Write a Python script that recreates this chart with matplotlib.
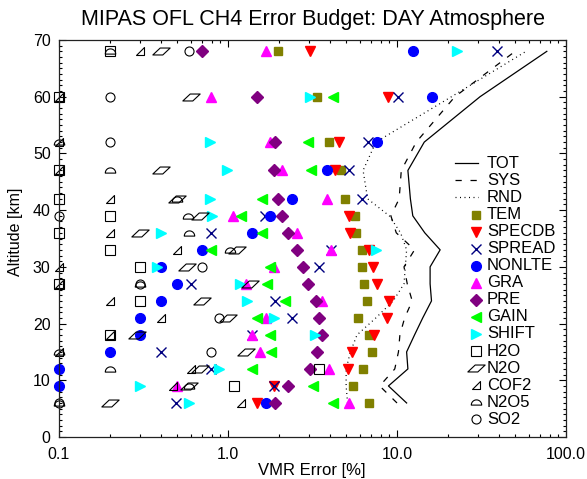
import numpy as np
import matplotlib
matplotlib.use('Agg')
import matplotlib.pyplot as plt
from matplotlib.path import Path
from matplotlib.lines import Line2D

plt.rcParams['font.family'] = ['Liberation Sans', 'DejaVu Sans']

nan = np.nan

# tangent altitudes [km]
alt = [6, 9, 12, 15, 18, 21, 24, 27, 30, 33, 36, 39, 42, 47, 52, 60, 68]

# total / systematic / random error [%]
tot = [11.4, 8.9, 11.6, 11.4, 12.7, 14.2, 16.0, 15.7, 15.7, 18.0, 14.6, 12.4, 12.0, 11.6, 14.5, 31.0, 77.0]
sys_ = [10.0, 7.9, 9.7, 10.2, 10.4, 11.1, 12.3, 11.5, 11.0, 12.7, 9.9, 9.2, 10.3, 10.6, 13.0, 22.0, 50.0]
rnd = [5.1, 5.0, 5.0, 5.3, 5.8, 7.5, 9.5, 11.0, 11.2, 11.4, 10.5, 9.0, 6.7, 6.3, 7.5, 21.0, 58.0]

# individual error sources [%]
tem = [6.86, 5.5, 6.32, 7.08, 6.86, 5.9, 6.62, 6.38, 6.23, 6.18, 5.7, 5.64, 4.93, 4.64, 3.96, 3.38, 1.98]
specdb = [1.49, 1.87, 5.15, 5.44, 7.3, 8.7, 8.97, 7.6, 7.24, 6.83, 5.28, 5.2, nan, 4.3, 4.56, 8.9, 3.05]
spread = [0.49, 1.87, 0.79, 0.4, 1.38, 2.38, 1.90, 0.6, 3.45, 4.05, 0.79, 1.66, 6.23, 5.2, 6.76, 10.2, 38.9]
nonlte = [1.68, 0.1, 0.1, 0.2, 0.3, 0.3, 0.4, 0.5, 0.4, 0.70, 1.38, 1.77, 2.38, 3.84, 7.6, 16.2, 12.5]
gra = [5.22, 0.5, 3.96, 1.55, 1.38, 1.68, 3.58, 1.28, 1.87, 4.05, 2.57, 1.07, 3.84, 2.08, 1.77, 0.79, 1.68]
pre = [1.90, 2.27, 3.05, 3.34, 3.58, 3.45, 3.32, 2.96, 2.77, 2.57, 2.27, 2.08, 1.98, 1.87, 1.90, 1.48, 0.70]
gain = [4.16, 3.2, 1.38, 1.79, 1.77, 1.49, 2.17, 1.69, 1.77, 0.79, 1.58, 1.2, 1.58, 3.1, 2.99, 4.2, nan]
shift = [0.59, 0.3, 0.89, nan, 3.27, 1.87, 1.29, 1.18, 0.38, 7.48, 0.4, 0.8, 0.78, 0.98, 0.78, 3.07, 22.7]
h2o = [nan, 1.09, 3.45, nan, 0.2, nan, 0.3, 0.1, 0.3, 0.2, 0.1, 0.2, 0.1, 0.1, nan, 0.1, 0.2]
n2o = [0.2, 0.59, 0.68, 1.27, 0.29, 1.0, 0.7, 1.35, 0.57, 1.13, 0.3, 0.68, 0.5, 0.4, nan, 0.6, 0.4]
cof2 = [1.19, 0.47, 0.6, 0.1, 0.2, 0.4, 0.2, 0.1, 0.1, 0.5, 0.2, nan, 0.2, 0.1, 0.1, 0.1, 0.3]
n2o5 = [0.1, 0.59, 0.2, 0.1, nan, nan, nan, 0.3, nan, 1.03, 0.59, 0.58, 0.5, 0.2, 0.1, nan, 0.2]
so2 = [0.1, nan, nan, 0.79, nan, 0.885, nan, 0.3, 0.70, nan, nan, 0.1, nan, nan, 0.2, 0.2, 0.59]

# custom open symbols
para = Path([(-1, -0.4), (0.15, -0.4), (1, 0.4), (-0.15, 0.4), (-1, -0.4)],
            [1, 2, 2, 2, 79])
rtri = Path([(-1, -1), (1, -1), (1, 1), (-1, -1)], [1, 2, 2, 79])
t = np.linspace(0, np.pi, 25)
dome_v = list(zip(np.cos(t), np.sin(t) - 0.5)) + [(1, -0.5)]
dome = Path(dome_v, [1] + [2] * 24 + [79])

series = [
    ('TEM', tem, dict(marker='s', ms=6.2, color='#808000')),
    ('SPECDB', specdb, dict(marker='v', ms=7, color='#ff0000')),
    ('SPREAD', spread, dict(marker='x', ms=7.5, mew=1.0, color='#000080')),
    ('NONLTE', nonlte, dict(marker='o', ms=7, color='#0000ff')),
    ('GRA', gra, dict(marker='^', ms=7, color='#ff00ff')),
    ('PRE', pre, dict(marker='D', ms=6.2, color='#800080')),
    ('GAIN', gain, dict(marker='<', ms=7, color='#00ff00')),
    ('SHIFT', shift, dict(marker='>', ms=7, color='#00ffff')),
    ('H2O', h2o, dict(marker='s', ms=6.5, mfc='none', mec='black', mew=0.8)),
    ('N2O', n2o, dict(marker=para, ms=12.5, mfc='none', mec='black', mew=0.8)),
    ('COF2', cof2, dict(marker=rtri, ms=6, mfc='none', mec='black', mew=0.8)),
    ('N2O5', n2o5, dict(marker=dome, ms=7.5, mfc='none', mec='black', mew=0.8)),
    ('SO2', so2, dict(marker='o', ms=6.5, mfc='none', mec='black', mew=0.8)),
]

W, H = 587, 479
fig = plt.figure(figsize=(W / 100, H / 100), dpi=100)
ax = fig.add_axes([59 / W, 1 - 437 / H, (566 - 59) / W, (437 - 40) / H])

ax.plot(tot, alt, color='black', lw=0.9)
ax.plot(sys_, alt, color='black', lw=0.9, linestyle=(0, (5, 7)))
ax.plot(rnd, alt, color='black', lw=0.9, linestyle=(0, (0.8, 2.8)))

for name, vals, st in series:
    ax.plot(vals, alt, linestyle='none', clip_on=False, **st)

ax.set_xscale('log')
ax.set_xlim(0.1, 100)
ax.set_ylim(0, 70)
ax.set_xticks([0.1, 1, 10, 100])
ax.set_xticklabels(['0.1', '1.0', '10.0', '100.0'])
ax.set_yticks(np.arange(0, 71, 10))
ax.set_yticks(np.arange(0, 71, 1), minor=True)
ax.tick_params(which='both', direction='in', top=True, right=True, labelsize=11.5)
ax.tick_params(which='major', length=5, width=0.8)
ax.tick_params(which='minor', length=2.5, width=0.8)
ax.tick_params(axis='x', pad=7)
ax.tick_params(axis='y', pad=6)
for s in ax.spines.values():
    s.set_linewidth(0.9)
    s.set_color('#222222')

fig.text(313 / W, 1 - 20 / H, 'MIPAS OFL CH4 Error Budget: DAY Atmosphere',
         ha='center', va='center', fontsize=15.5)
fig.text(312 / W, 1 - 470 / H, 'VMR Error [%]', ha='center', va='center', fontsize=12)
fig.text(16 / W, 1 - 232 / H, 'Altitude [km]', ha='center', va='center',
         rotation=90, fontsize=11.5)

# legend drawn by hand
y0, dy = 163.3, 17.07
lines = [('TOT', '-'), ('SYS', (0, (5, 7))), ('RND', (0, (0.8, 2.8)))]
for i, (lab, ls) in enumerate(lines):
    yy = 1 - (y0 + dy * i) / H
    fig.add_artist(Line2D([455 / W, 478 / W], [yy, yy], color='black', lw=0.9,
                          linestyle=ls, transform=fig.transFigure))
    fig.text(487 / W, yy, lab, ha='left', va='center', fontsize=12)
for j, (name, vals, st) in enumerate(series):
    yy = 1 - (y0 + dy * (j + 3)) / H
    fig.add_artist(Line2D([476 / W], [yy], linestyle='none',
                          transform=fig.transFigure, **st))
    fig.text(487 / W, yy, name, ha='left', va='center', fontsize=12)

fig.savefig('out.png', dpi=100)
